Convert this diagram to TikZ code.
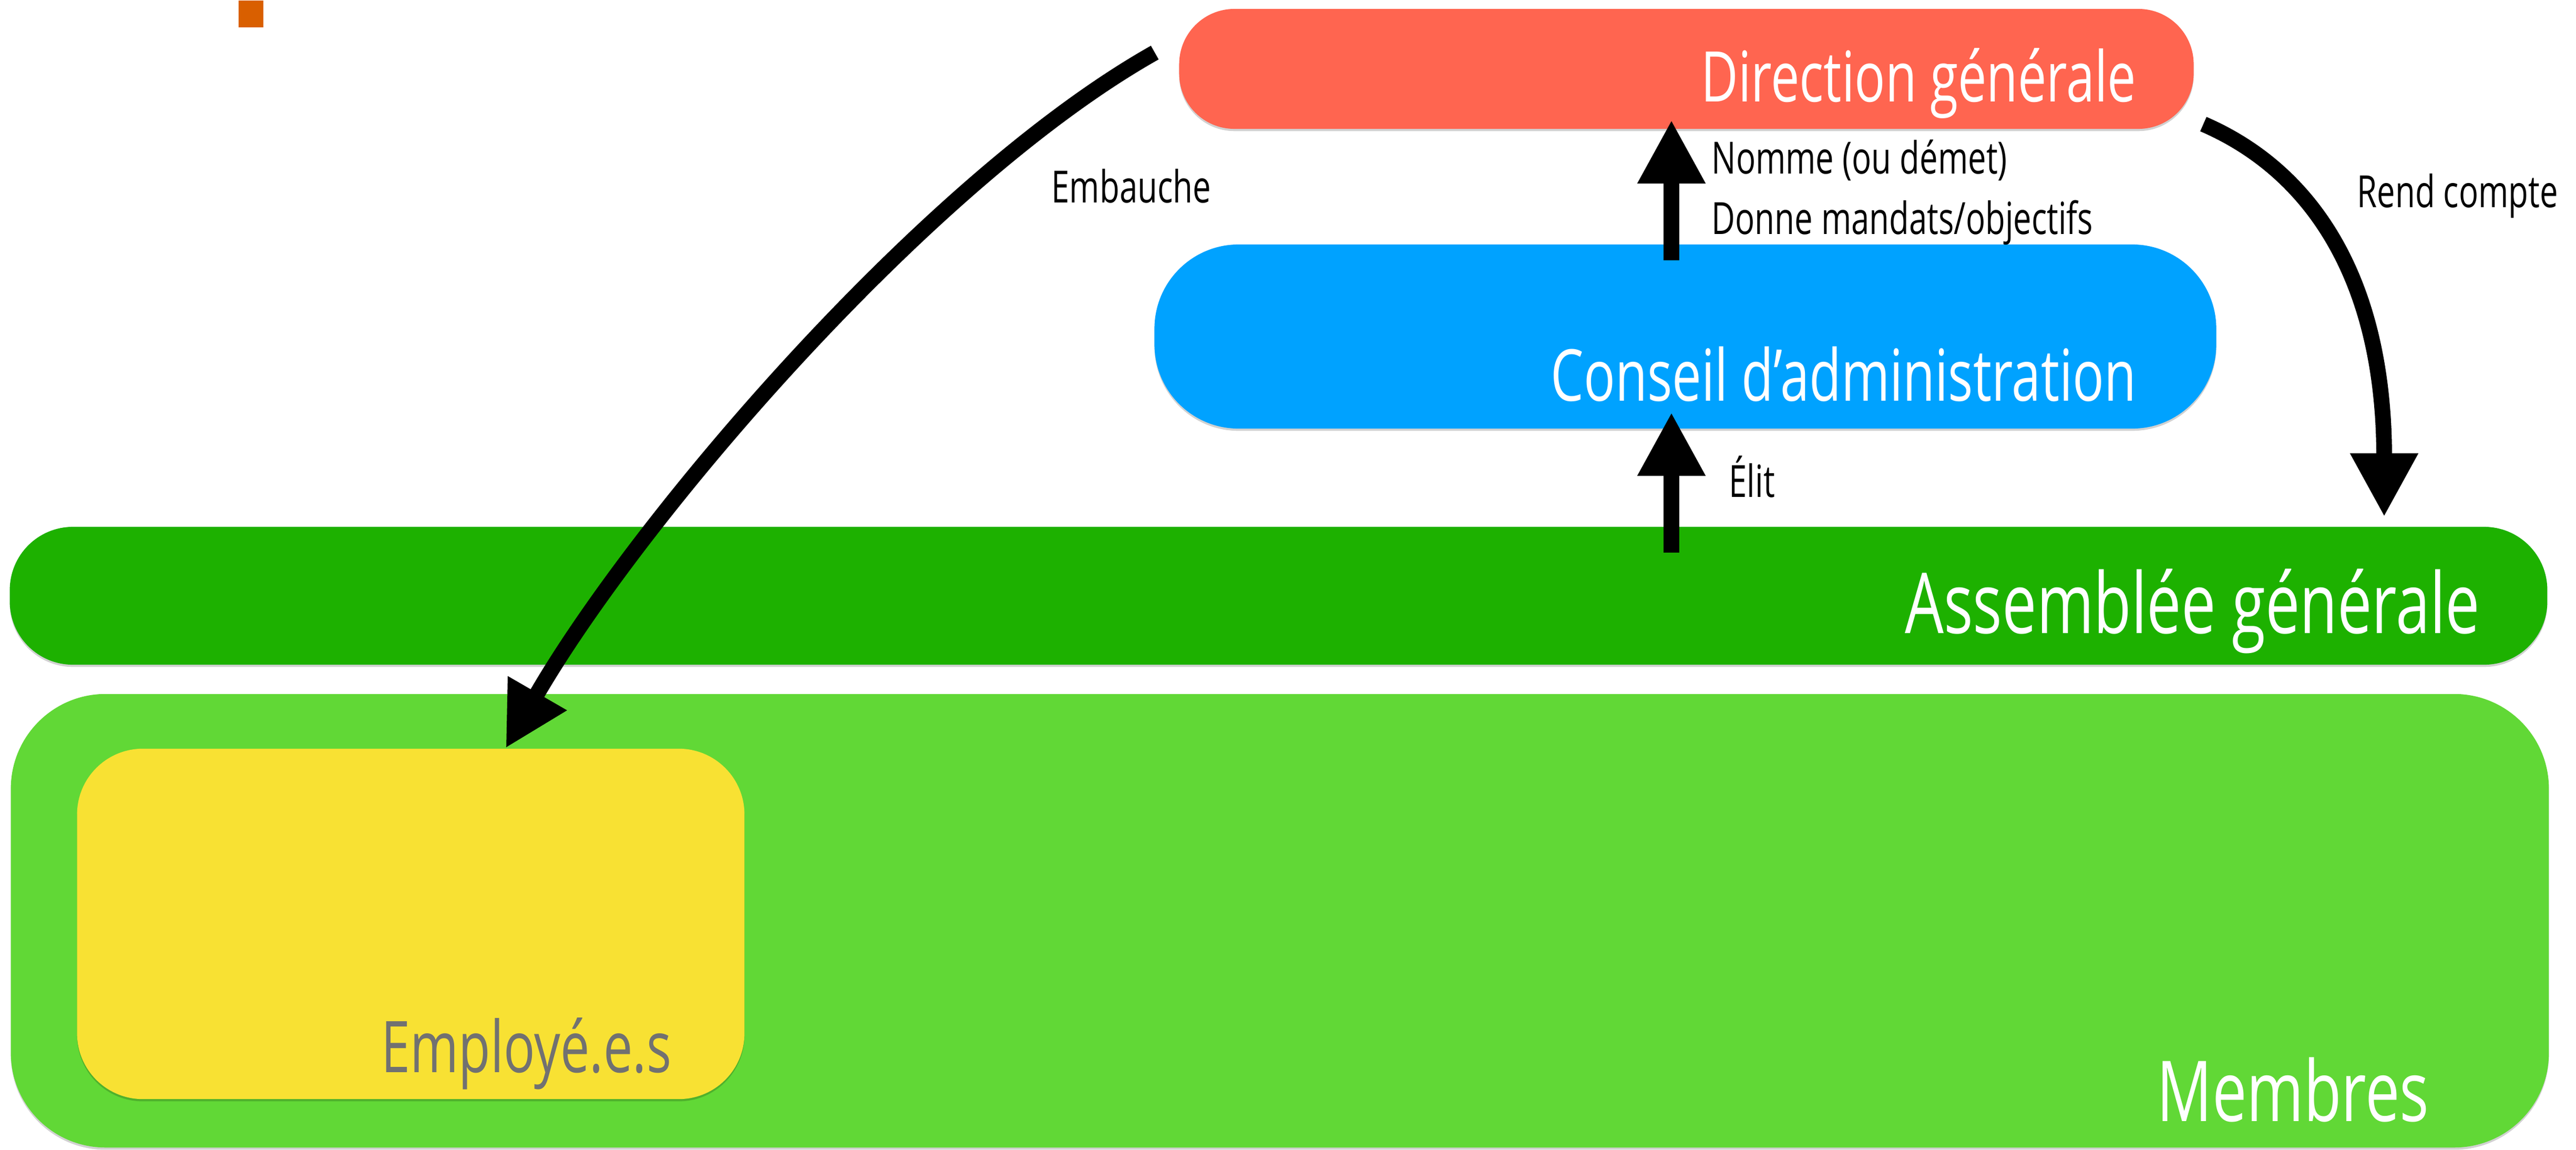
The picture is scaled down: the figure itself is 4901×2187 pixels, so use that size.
\documentclass[tikz,border=0pt]{standalone}
\usepackage{fontspec}
\setmainfont{Open Sans}[FakeStretch=0.73]
\usetikzlibrary{arrows.meta,shadows}
\definecolor{dgred}{HTML}{FF6550}
\definecolor{cablue}{HTML}{00A2FF}
\definecolor{aggreen}{HTML}{1DB100}
\definecolor{mbgreen}{HTML}{61D836}
\definecolor{emyellow}{HTML}{F8E133}
\definecolor{markorange}{HTML}{D95F00}
\definecolor{emgray}{HTML}{717171}
\begin{document}
\begin{tikzpicture}[x=0.01cm,y=-0.01cm,
  box/.style={rectangle, inner sep=0pt, outer sep=0pt, draw=none,
    drop shadow={shadow xshift=0pt, shadow yshift=-1.2pt, opacity=0.18, fill=black}},
  bigtext/.style={text=white, inner sep=0pt, anchor=base east},
  lbl/.style={text=black, inner sep=0pt, anchor=base west, font=\fontsize{24pt}{26pt}\selectfont},
  conn/.style={line width=8.5pt, -{Triangle[length=34.4pt,width=34.4pt]}}]
\useasboundingbox (0,0) rectangle (4901,2187);
% orange mark
\node[rectangle, fill=markorange, inner sep=0pt, minimum width=0.47cm, minimum height=0.51cm, anchor=north west] (mark) at (453,0) {};
% boxes
\node[box, fill=mbgreen, minimum width=48.26cm, minimum height=8.62cm, rounded corners=1.8cm] (mb) at (2435,1751) {};
\node[box, fill=emyellow, minimum width=12.69cm, minimum height=6.66cm, rounded corners=1.25cm] (em) at (781.5,1757) {};
\node[box, fill=aggreen, minimum width=48.25cm, minimum height=2.62cm, rounded corners=1.2cm] (ag) at (2432.5,1133) {};
\node[box, fill=cablue, minimum width=20.19cm, minimum height=3.5cm, rounded corners=1.6cm] (ca) at (3206.5,640) {};
\node[box, fill=dgred, minimum width=19.29cm, minimum height=2.28cm, rounded corners=1.05cm] (dg) at (3208.5,131) {};
% box texts
\node[bigtext, font=\fontsize{37.8pt}{40pt}\selectfont] (dgt) at (4065,193) {Direction générale};
\node[bigtext, font=\fontsize{38.7pt}{40pt}\selectfont] (cat) at (4065,762) {Conseil d’administration};
\node[bigtext, font=\fontsize{45.5pt}{48pt}\selectfont] (agt) at (4719,1204) {Assemblée générale};
\node[bigtext, font=\fontsize{45.5pt}{48pt}\selectfont] (mbt) at (4622,2132) {Membres};
\node[bigtext, text=emgray, font=\fontsize{38.6pt}{40pt}\selectfont] (emt) at (1278,2039) {Employé.e.s};
% connector end points
\coordinate (nomS) at (3180,495);
\coordinate (nomE) at (3180,228);
\coordinate (elS) at (3180,1051);
\coordinate (elE) at (3180,784);
\coordinate (rcS) at (4192,236);
\coordinate (rcE) at (4536,983);
\coordinate (emS) at (2197,100);
\coordinate (emE) at (962,1423);
% connectors
\draw[conn] (nomS) -- (nomE);
\draw[conn] (elS) -- (elE);
\draw[conn] (rcS) .. controls (4400,326) and (4536,533) .. (rcE);
\draw[conn] (emS) .. controls (1762,345) and (1212,990) .. (emE);
% labels
\node[lbl] (l1) at (2000,385) {Embauche};
\node[lbl] (l2) at (3256,330) {Nomme (ou démet)};
\node[lbl] (l3) at (3256,445) {Donne mandats/objectifs};
\node[lbl] (l4) at (3289,945) {Élit};
\node[lbl] (l5) at (4484,394) {Rend compte};
\end{tikzpicture}
\end{document}
